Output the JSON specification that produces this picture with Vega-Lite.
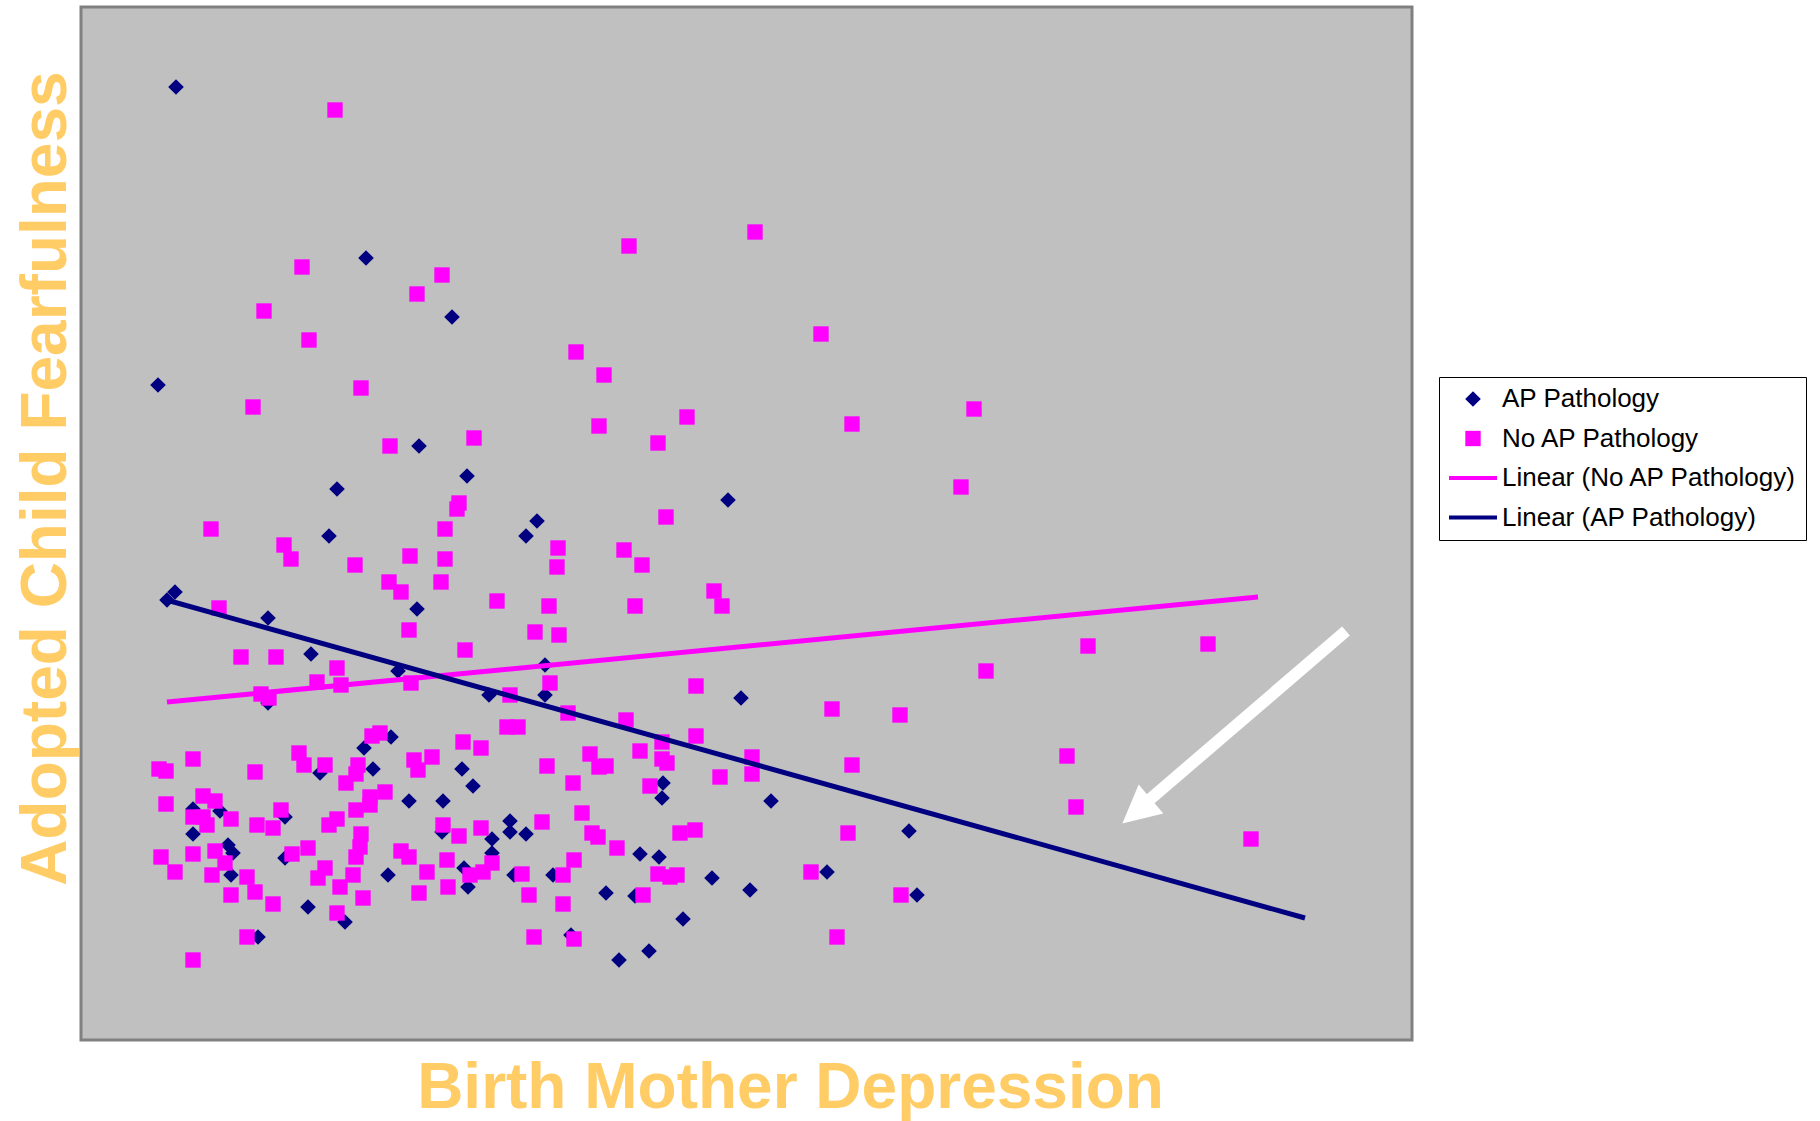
{
  "$schema": "https://vega.github.io/schema/vega-lite/v6.json",
  "width": 1331,
  "height": 1033,
  "autosize": "none",
  "padding": {"left": 81, "top": 7, "right": 408, "bottom": 81},
  "background": "white",
  "config": {
    "view": {"fill": "#C0C0C0", "stroke": "#808080", "strokeWidth": 3},
    "axis": {"domain": false, "ticks": false, "labels": false, "grid": false}
  },
  "datasets": {
    "ap": [
      {"s":"AP Pathology","x":9.5,"y":95.3},{"s":"AP Pathology","x":28.5,"y":78.2},{"s":"AP Pathology","x":37.1,"y":72.3},{"s":"AP Pathology","x":7.7,"y":65.5},{"s":"AP Pathology","x":33.8,"y":59.4},{"s":"AP Pathology","x":38.6,"y":56.4},{"s":"AP Pathology","x":25.6,"y":55.1},{"s":"AP Pathology","x":64.7,"y":54.0},{"s":"AP Pathology","x":45.6,"y":51.9},{"s":"AP Pathology","x":44.5,"y":50.4},{"s":"AP Pathology","x":24.8,"y":50.4},{"s":"AP Pathology","x":9.4,"y":44.8},{"s":"AP Pathology","x":8.6,"y":44.0},{"s":"AP Pathology","x":18.7,"y":42.2},{"s":"AP Pathology","x":33.6,"y":43.1},{"s":"AP Pathology","x":23.0,"y":38.6},{"s":"AP Pathology","x":31.7,"y":36.9},{"s":"AP Pathology","x":18.7,"y":33.7},{"s":"AP Pathology","x":46.4,"y":37.5},{"s":"AP Pathology","x":40.8,"y":34.5},{"s":"AP Pathology","x":46.4,"y":34.5},{"s":"AP Pathology","x":66.0,"y":34.2},{"s":"AP Pathology","x":31.0,"y":30.3},{"s":"AP Pathology","x":28.3,"y":29.2},{"s":"AP Pathology","x":23.9,"y":26.7},{"s":"AP Pathology","x":29.2,"y":27.1},{"s":"AP Pathology","x":32.8,"y":23.9},{"s":"AP Pathology","x":36.2,"y":23.9},{"s":"AP Pathology","x":11.2,"y":23.1},{"s":"AP Pathology","x":13.9,"y":22.9},{"s":"AP Pathology","x":20.4,"y":22.3},{"s":"AP Pathology","x":11.2,"y":20.6},{"s":"AP Pathology","x":36.1,"y":20.8},{"s":"AP Pathology","x":14.7,"y":19.5},{"s":"AP Pathology","x":15.2,"y":18.7},{"s":"AP Pathology","x":15.0,"y":16.5},{"s":"AP Pathology","x":20.4,"y":18.2},{"s":"AP Pathology","x":22.7,"y":13.3},{"s":"AP Pathology","x":26.4,"y":11.8},{"s":"AP Pathology","x":30.7,"y":16.5},{"s":"AP Pathology","x":17.7,"y":10.3},{"s":"AP Pathology","x":38.1,"y":27.1},{"s":"AP Pathology","x":39.2,"y":25.4},{"s":"AP Pathology","x":42.9,"y":21.9},{"s":"AP Pathology","x":42.9,"y":20.8},{"s":"AP Pathology","x":44.5,"y":20.6},{"s":"AP Pathology","x":41.1,"y":20.1},{"s":"AP Pathology","x":41.1,"y":18.7},{"s":"AP Pathology","x":58.2,"y":25.7},{"s":"AP Pathology","x":58.1,"y":24.2},{"s":"AP Pathology","x":55.9,"y":18.6},{"s":"AP Pathology","x":57.8,"y":18.3},{"s":"AP Pathology","x":38.3,"y":17.2},{"s":"AP Pathology","x":38.7,"y":15.3},{"s":"AP Pathology","x":43.3,"y":16.5},{"s":"AP Pathology","x":47.2,"y":16.5},{"s":"AP Pathology","x":52.5,"y":14.7},{"s":"AP Pathology","x":55.4,"y":14.4},{"s":"AP Pathology","x":63.1,"y":16.2},{"s":"AP Pathology","x":60.2,"y":12.1},{"s":"AP Pathology","x":49.0,"y":10.5},{"s":"AP Pathology","x":53.8,"y":8.0},{"s":"AP Pathology","x":56.8,"y":8.9},{"s":"AP Pathology","x":69.0,"y":23.9},{"s":"AP Pathology","x":82.8,"y":20.9},{"s":"AP Pathology","x":74.6,"y":16.8},{"s":"AP Pathology","x":66.9,"y":15.0},{"s":"AP Pathology","x":83.6,"y":14.5}
    ],
    "noap": [
      {"s":"No AP Pathology","x":25.4,"y":93.0},{"s":"No AP Pathology","x":22.1,"y":77.3},{"s":"No AP Pathology","x":36.1,"y":76.5},{"s":"No AP Pathology","x":33.6,"y":74.6},{"s":"No AP Pathology","x":18.3,"y":72.9},{"s":"No AP Pathology","x":22.8,"y":70.0},{"s":"No AP Pathology","x":54.8,"y":79.4},{"s":"No AP Pathology","x":67.4,"y":80.8},{"s":"No AP Pathology","x":74.0,"y":70.6},{"s":"No AP Pathology","x":49.5,"y":68.8},{"s":"No AP Pathology","x":52.3,"y":66.5},{"s":"No AP Pathology","x":28.0,"y":65.2},{"s":"No AP Pathology","x":17.2,"y":63.3},{"s":"No AP Pathology","x":60.6,"y":62.3},{"s":"No AP Pathology","x":51.8,"y":61.4},{"s":"No AP Pathology","x":77.1,"y":61.6},{"s":"No AP Pathology","x":89.3,"y":63.1},{"s":"No AP Pathology","x":30.9,"y":59.4},{"s":"No AP Pathology","x":39.3,"y":60.2},{"s":"No AP Pathology","x":57.7,"y":59.7},{"s":"No AP Pathology","x":88.0,"y":55.3},
      {"s":"No AP Pathology","x":13.0,"y":51.1},{"s":"No AP Pathology","x":20.3,"y":49.5},{"s":"No AP Pathology","x":21.0,"y":48.1},{"s":"No AP Pathology","x":27.4,"y":47.5},{"s":"No AP Pathology","x":32.9,"y":48.4},{"s":"No AP Pathology","x":30.8,"y":45.8},{"s":"No AP Pathology","x":32.0,"y":44.8},{"s":"No AP Pathology","x":13.8,"y":43.2},{"s":"No AP Pathology","x":32.8,"y":41.0},{"s":"No AP Pathology","x":16.0,"y":38.3},{"s":"No AP Pathology","x":19.5,"y":38.3},{"s":"No AP Pathology","x":25.6,"y":37.2},{"s":"No AP Pathology","x":23.6,"y":35.8},{"s":"No AP Pathology","x":26.0,"y":35.5},{"s":"No AP Pathology","x":33.0,"y":35.7},{"s":"No AP Pathology","x":18.0,"y":34.6},{"s":"No AP Pathology","x":18.8,"y":34.2},
      {"s":"No AP Pathology","x":37.8,"y":53.7},{"s":"No AP Pathology","x":37.6,"y":53.1},{"s":"No AP Pathology","x":58.5,"y":52.3},{"s":"No AP Pathology","x":36.4,"y":51.1},{"s":"No AP Pathology","x":47.7,"y":49.2},{"s":"No AP Pathology","x":47.6,"y":47.3},{"s":"No AP Pathology","x":54.3,"y":49.0},{"s":"No AP Pathology","x":56.1,"y":47.5},{"s":"No AP Pathology","x":36.4,"y":48.1},{"s":"No AP Pathology","x":36.0,"y":45.8},{"s":"No AP Pathology","x":41.6,"y":43.9},{"s":"No AP Pathology","x":46.8,"y":43.4},{"s":"No AP Pathology","x":55.4,"y":43.4},{"s":"No AP Pathology","x":63.3,"y":44.9},{"s":"No AP Pathology","x":64.1,"y":43.4},{"s":"No AP Pathology","x":45.4,"y":40.8},{"s":"No AP Pathology","x":47.8,"y":40.5},{"s":"No AP Pathology","x":38.4,"y":39.0},{"s":"No AP Pathology","x":46.9,"y":35.7},{"s":"No AP Pathology","x":61.5,"y":35.4},{"s":"No AP Pathology","x":42.9,"y":34.5},{"s":"No AP Pathology","x":48.7,"y":32.7},{"s":"No AP Pathology","x":54.5,"y":32.0},{"s":"No AP Pathology","x":42.6,"y":31.3},{"s":"No AP Pathology","x":43.7,"y":31.3},
      {"s":"No AP Pathology","x":90.5,"y":36.9},{"s":"No AP Pathology","x":75.1,"y":33.1},{"s":"No AP Pathology","x":81.9,"y":32.5},{"s":"No AP Pathology","x":100.7,"y":39.4},{"s":"No AP Pathology","x":112.7,"y":39.6},{"s":"No AP Pathology","x":98.6,"y":28.4},{"s":"No AP Pathology","x":99.5,"y":23.3},{"s":"No AP Pathology","x":117.0,"y":20.1},
      {"s":"No AP Pathology","x":29.1,"y":30.4},{"s":"No AP Pathology","x":29.9,"y":30.7},{"s":"No AP Pathology","x":11.2,"y":28.1},{"s":"No AP Pathology","x":7.8,"y":27.1},{"s":"No AP Pathology","x":8.5,"y":26.9},{"s":"No AP Pathology","x":17.4,"y":26.8},{"s":"No AP Pathology","x":21.8,"y":28.7},{"s":"No AP Pathology","x":22.3,"y":27.5},{"s":"No AP Pathology","x":24.4,"y":27.5},{"s":"No AP Pathology","x":27.7,"y":27.5},{"s":"No AP Pathology","x":27.5,"y":26.6},{"s":"No AP Pathology","x":26.5,"y":25.7},{"s":"No AP Pathology","x":33.3,"y":28.0},{"s":"No AP Pathology","x":33.7,"y":27.0},{"s":"No AP Pathology","x":35.1,"y":28.3},{"s":"No AP Pathology","x":30.4,"y":24.8},{"s":"No AP Pathology","x":28.9,"y":24.3},{"s":"No AP Pathology","x":28.9,"y":23.5},{"s":"No AP Pathology","x":27.5,"y":23.0},{"s":"No AP Pathology","x":8.5,"y":23.6},{"s":"No AP Pathology","x":12.2,"y":24.4},{"s":"No AP Pathology","x":13.4,"y":23.9},{"s":"No AP Pathology","x":11.2,"y":22.3},{"s":"No AP Pathology","x":12.2,"y":22.3},{"s":"No AP Pathology","x":12.6,"y":21.5},{"s":"No AP Pathology","x":15.0,"y":22.1},{"s":"No AP Pathology","x":17.6,"y":21.5},{"s":"No AP Pathology","x":19.2,"y":21.2},{"s":"No AP Pathology","x":20.0,"y":23.0},{"s":"No AP Pathology","x":24.8,"y":21.5},{"s":"No AP Pathology","x":25.6,"y":22.1},{"s":"No AP Pathology","x":28.0,"y":20.6},{"s":"No AP Pathology","x":27.9,"y":19.3},{"s":"No AP Pathology","x":27.5,"y":18.3},{"s":"No AP Pathology","x":8.0,"y":18.3},{"s":"No AP Pathology","x":9.4,"y":16.8},{"s":"No AP Pathology","x":11.2,"y":18.6},{"s":"No AP Pathology","x":13.4,"y":18.9},{"s":"No AP Pathology","x":14.4,"y":17.7},{"s":"No AP Pathology","x":13.1,"y":16.5},{"s":"No AP Pathology","x":16.6,"y":16.3},{"s":"No AP Pathology","x":15.0,"y":14.5},{"s":"No AP Pathology","x":17.4,"y":14.8},{"s":"No AP Pathology","x":19.2,"y":13.6},{"s":"No AP Pathology","x":21.1,"y":18.6},{"s":"No AP Pathology","x":22.7,"y":19.2},{"s":"No AP Pathology","x":24.4,"y":17.2},{"s":"No AP Pathology","x":23.7,"y":16.2},{"s":"No AP Pathology","x":25.9,"y":15.3},{"s":"No AP Pathology","x":27.2,"y":16.5},{"s":"No AP Pathology","x":28.2,"y":14.2},{"s":"No AP Pathology","x":25.6,"y":12.7},{"s":"No AP Pathology","x":32.0,"y":18.9},{"s":"No AP Pathology","x":32.8,"y":18.3},{"s":"No AP Pathology","x":34.6,"y":16.8},{"s":"No AP Pathology","x":33.8,"y":14.7},{"s":"No AP Pathology","x":16.6,"y":10.3},{"s":"No AP Pathology","x":11.2,"y":8.0},
      {"s":"No AP Pathology","x":38.2,"y":29.8},{"s":"No AP Pathology","x":40.0,"y":29.2},{"s":"No AP Pathology","x":46.6,"y":27.4},{"s":"No AP Pathology","x":50.9,"y":28.6},{"s":"No AP Pathology","x":51.8,"y":27.3},{"s":"No AP Pathology","x":52.5,"y":27.4},{"s":"No AP Pathology","x":49.2,"y":25.7},{"s":"No AP Pathology","x":55.9,"y":28.9},{"s":"No AP Pathology","x":58.1,"y":29.8},{"s":"No AP Pathology","x":58.1,"y":28.1},{"s":"No AP Pathology","x":58.6,"y":27.7},{"s":"No AP Pathology","x":61.5,"y":30.4},{"s":"No AP Pathology","x":63.9,"y":26.3},{"s":"No AP Pathology","x":56.9,"y":25.4},{"s":"No AP Pathology","x":50.1,"y":22.7},{"s":"No AP Pathology","x":46.1,"y":21.8},{"s":"No AP Pathology","x":36.2,"y":21.5},{"s":"No AP Pathology","x":37.8,"y":20.4},{"s":"No AP Pathology","x":40.0,"y":21.2},{"s":"No AP Pathology","x":51.1,"y":20.7},{"s":"No AP Pathology","x":51.7,"y":20.3},{"s":"No AP Pathology","x":53.6,"y":19.2},{"s":"No AP Pathology","x":59.9,"y":20.7},{"s":"No AP Pathology","x":61.4,"y":21.0},{"s":"No AP Pathology","x":36.6,"y":18.0},{"s":"No AP Pathology","x":38.9,"y":16.5},{"s":"No AP Pathology","x":40.2,"y":16.8},{"s":"No AP Pathology","x":36.7,"y":15.3},{"s":"No AP Pathology","x":41.1,"y":17.7},{"s":"No AP Pathology","x":44.1,"y":16.6},{"s":"No AP Pathology","x":48.2,"y":16.5},{"s":"No AP Pathology","x":49.3,"y":18.0},{"s":"No AP Pathology","x":44.8,"y":14.5},{"s":"No AP Pathology","x":48.2,"y":13.6},{"s":"No AP Pathology","x":56.2,"y":14.5},{"s":"No AP Pathology","x":57.7,"y":16.6},{"s":"No AP Pathology","x":58.9,"y":16.3},{"s":"No AP Pathology","x":59.6,"y":16.5},{"s":"No AP Pathology","x":45.3,"y":10.3},{"s":"No AP Pathology","x":49.3,"y":10.1},
      {"s":"No AP Pathology","x":67.1,"y":28.3},{"s":"No AP Pathology","x":67.1,"y":26.6},{"s":"No AP Pathology","x":77.1,"y":27.5},{"s":"No AP Pathology","x":76.7,"y":20.7},{"s":"No AP Pathology","x":73.0,"y":16.8},{"s":"No AP Pathology","x":82.0,"y":14.5},{"s":"No AP Pathology","x":75.6,"y":10.3}
    ],
    "trendNo": [
      {"s":"Linear (No AP Pathology)","x":8.6,"y":33.8},
      {"s":"Linear (No AP Pathology)","x":117.7,"y":44.3}
    ],
    "trendAP": [
      {"s":"Linear (AP Pathology)","x":8.2,"y":44.1},
      {"s":"Linear (AP Pathology)","x":122.4,"y":12.2}
    ],
    "arrowShaft": [
      {"x":126.5,"y":40.9},
      {"x":106.7,"y":23.9}
    ],
    "arrowHead": [
      {"x":107.0,"y":24.1}
    ]
  },
  "encoding": {
    "x": {"field": "x", "type": "quantitative", "scale": {"domain": [0, 133.1], "nice": false, "zero": false},
      "axis": {"title": "Birth Mother Depression", "titleFont": "Liberation Sans", "titleFontWeight": "bold", "titleFontSize": 64, "titleColor": "#FFCC66", "titleX": 709, "titleY": 67, "titleBaseline": "alphabetic", "titleAlign": "center"}},
    "y": {"field": "y", "type": "quantitative", "scale": {"domain": [0, 103.3], "nice": false, "zero": false},
      "axis": {"title": "Adopted Child Fearfulness", "titleFont": "Liberation Sans", "titleFontWeight": "bold", "titleFontSize": 64, "titleColor": "#FFCC66", "titleX": -16, "titleY": 471, "titleAngle": 270, "titleBaseline": "alphabetic", "titleAlign": "center"}}
  },
  "layer": [
    {
      "data": {"name": "ap"},
      "mark": {"type": "point", "size": 576, "filled": true, "opacity": 1},
      "encoding": {
        "shape": {"field": "s", "type": "nominal", "legend": null,
          "scale": {"domain": ["AP Pathology", "No AP Pathology", "Linear (No AP Pathology)", "Linear (AP Pathology)"],
            "range": ["M0,-0.65L0.65,0L0,0.65L-0.65,0Z", "M-0.64,-0.64H0.64V0.64H-0.64Z", "M-2,-0.17H2V0.17H-2Z", "M-2,-0.17H2V0.17H-2Z"]}},
        "color": {"field": "s", "type": "nominal",
          "scale": {"domain": ["AP Pathology", "No AP Pathology", "Linear (No AP Pathology)", "Linear (AP Pathology)"], "range": ["#000080", "#FF00FF", "#FF00FF", "#000080"]},
          "legend": {
            "orient": "none", "legendX": 1358, "legendY": 370, "title": null,
            "fillColor": "white", "strokeColor": "#000000", "padding": 9,
            "labelFont": "Liberation Sans", "labelFontSize": 26, "labelColor": "#000000", "labelLimit": 500,
            "symbolSize": 576, "symbolOffset": 12, "labelOffset": 16, "rowPadding": 13.5,
            "symbolStrokeWidth": 0,
            "encode": {
              "legend": {"update": {"strokeWidth": {"value": 1.5}}},
              "symbols": {"update": {
                "shape": {"scale": "shape", "field": "value"},
                "fill": {"scale": "color", "field": "value"},
                "strokeWidth": {"value": 0},
                "opacity": {"value": 1},
                "fillOpacity": {"value": 1}
              }}
            }
          }
        }
      }
    },
    {
      "data": {"name": "noap"},
      "mark": {"type": "point", "size": 576, "filled": true, "opacity": 1},
      "encoding": {
        "shape": {"field": "s", "type": "nominal", "legend": null},
        "color": {"field": "s", "type": "nominal"}
      }
    },
    {
      "data": {"name": "trendNo"},
      "mark": {"type": "line", "strokeWidth": 5},
      "encoding": {"color": {"field": "s", "type": "nominal"}}
    },
    {
      "data": {"name": "trendAP"},
      "mark": {"type": "line", "strokeWidth": 5},
      "encoding": {"color": {"field": "s", "type": "nominal"}}
    },
    {
      "data": {"name": "arrowShaft"},
      "mark": {"type": "line", "strokeWidth": 12, "color": "#FFFFFF", "strokeCap": "butt"},
      "encoding": {}
    },
    {
      "data": {"name": "arrowHead"},
      "mark": {"type": "point", "shape": "M0,-1.98L1,0L-1,0Z", "size": 1444, "filled": true, "color": "#FFFFFF", "opacity": 1, "strokeWidth": 0, "angle": 229.6},
      "encoding": {}
    }
  ]
}
